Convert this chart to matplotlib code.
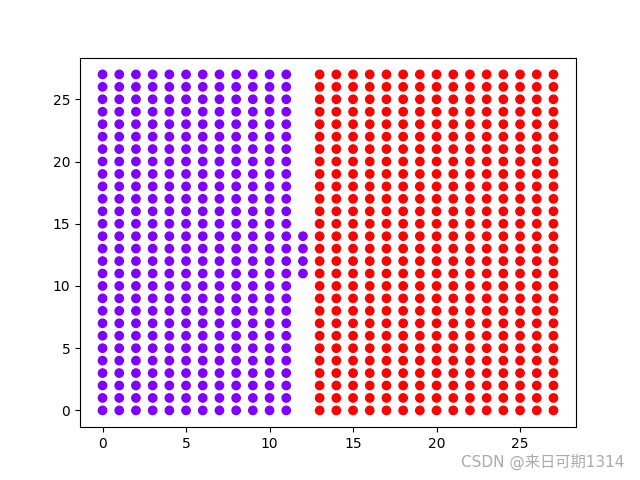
import matplotlib.pyplot as plt
import numpy as np

plt.rcParams['font.family'] = ['DejaVu Sans', 'Noto Sans CJK SC']

# grid of sample points
grid_x = list(range(28))
grid_y = list(range(28))
# column 12 only keeps these rows
mid_col = 12
mid_rows = [11, 12, 13, 14]
# class boundary: x <= 12 -> class 0, else class 1
split_x = 12

xs, ys, cls = [], [], []
for x in grid_x:
    for y in grid_y:
        if x == mid_col and y not in mid_rows:
            continue
        xs.append(x)
        ys.append(y)
        cls.append(0 if x <= split_x else 1)

fig = plt.figure(figsize=(6.4, 4.8), dpi=100)
plt.scatter(xs, ys, c=cls, cmap='rainbow')
fig.text(0.975, 0.02, 'CSDN @来日可期1314', ha='right', va='bottom',
         color='#aaaaaa', fontsize=11, family=['DejaVu Sans', 'Noto Sans CJK SC'])
plt.savefig('out.png')
